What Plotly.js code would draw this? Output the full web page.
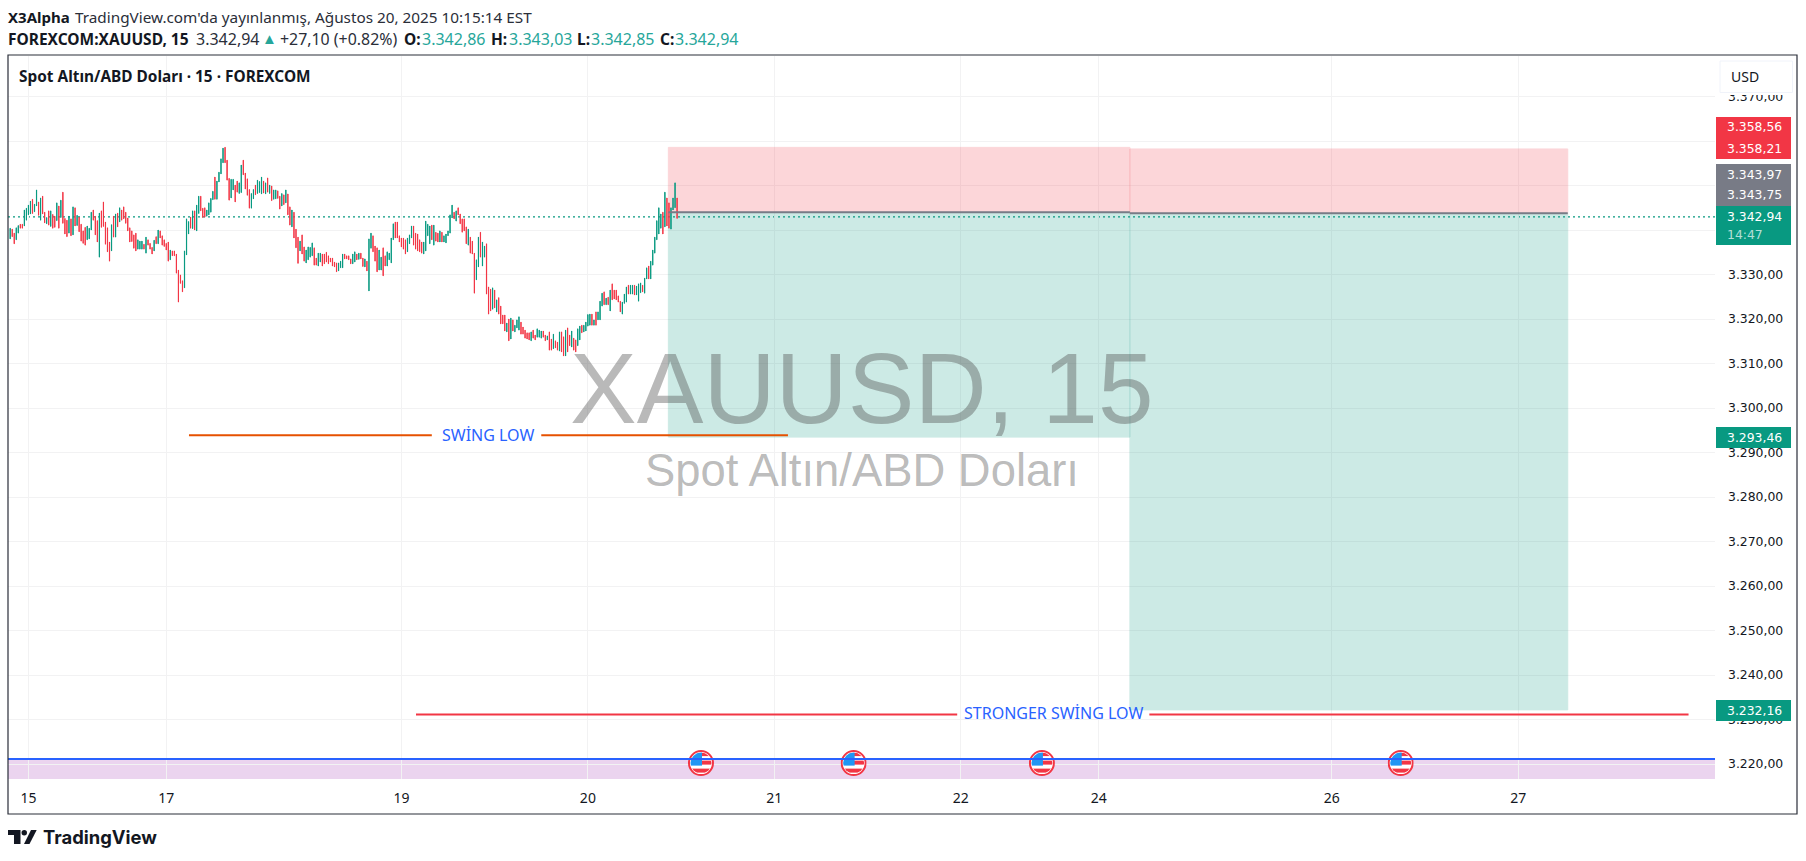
<!DOCTYPE html>
<html><head><meta charset="utf-8">
<script src="https://cdn.plot.ly/plotly-3.0.1.min.js"></script>
<style>html,body{margin:0;padding:0;background:#fff}#c{width:1806px;height:861px}</style>
</head><body><div id="c"></div>
<script>
// 15-minute candles, oldest first
const opens=[3338.0,3340.2,3339.3,3337.8,3339.3,3341.3,3341.3,3340.9,3342.2,3343.4,3343.6,3346.9,3344.1,3345.4,3346.3,3342.2,3347.6,3344.0,3341.4,3344.3,3340.8,3343.5,3343.1,3342.1,3345.4,3342.8,3348.5,3342.6,3342.2,3339.3,3342.5,3338.9,3345.0,3341.0,3342.9,3341.3,3339.8,3340.6,3337.8,3338.0,3340.0,3344.5,3343.1,3342.1,3333.9,3344.3,3346.3,3341.8,3340.5,3337.3,3335.3,3343.1,3338.4,3343.8,3341.8,3344.5,3345.2,3344.0,3342.7,3340.5,3339.8,3338.9,3339.3,3335.7,3335.7,3335.7,3336.8,3334.8,3337.8,3337.0,3336.1,3335.3,3338.5,3336.9,3339.8,3338.7,3337.8,3337.0,3337.3,3333.3,3335.3,3335.3,3334.6,3331.0,3329.9,3328.6,3327.0,3334.4,3339.1,3342.9,3340.3,3344.3,3339.8,3343.7,3347.6,3344.9,3345.0,3343.1,3343.4,3344.0,3346.8,3351.9,3346.9,3350.8,3352.6,3355.1,3358.6,3355.7,3351.6,3347.2,3349.0,3350.1,3351.0,3348.2,3348.4,3355.7,3352.8,3351.5,3349.1,3344.9,3347.0,3350.1,3348.2,3348.4,3348.1,3351.0,3348.1,3351.7,3348.2,3349.9,3346.9,3347.0,3348.8,3347.6,3345.4,3347.9,3346.1,3348.1,3345.2,3340.7,3344.0,3340.2,3338.4,3335.3,3338.9,3336.2,3332.6,3333.3,3333.9,3334.2,3336.0,3333.7,3331.9,3332.8,3334.6,3334.6,3335.0,3334.2,3333.7,3333.7,3332.8,3332.6,3330.8,3331.5,3331.5,
3334.6,3334.2,3334.2,3333.5,3332.4,3332.8,3334.6,3333.4,3334.8,3333.7,3331.7,3333.0,3326.3,3335.9,3338.7,
3336.4,3336.0,3331.0,3331.0,3336.0,3334.2,3331.9,3333.3,3332.6,3337.8,3341.8,3341.8,3338.7,3338.2,3338.2,3337.8,3335.1,3336.9,3338.2,3340.9,3339.3,3339.1,3337.8,3337.3,3334.6,3335.3,3338.7,3336.9,3341.1,3336.6,3339.5,3339.3,3337.3,3339.5,3337.3,3337.1,3338.7,3339.3,3342.7,3344.0,3342.0,3345.0,3343.6,3342.5,3342.5,3340.7,3336.6,3338.4,3337.5,3334.8,3328.8,3331.7,3339.5,3331.9,3333.9,3336.9,3327.2,3326.7,3322.2,3326.5,3321.6,3324.8,3322.9,3320.9,3320.9,3317.1,3320.0,3315.5,3319.8,3317.1,3318.0,3317.5,3319.3,3318.2,3317.5,3316.9,3316.9,3315.1,3317.5,3316.4,3315.9,3315.9,3315.7,3317.3,3316.4,3315.3,3317.1,3315.5,3313.3,3315.1,3314.8,3312.8,3317.1,3316.0,3311.7,3318.0,3316.4,3313.7,3315.7,3315.3,3314.0,3315.3,3318.6,3317.1,3317.3,3318.4,3318.6,3321.1,3318.6,3321.6,3319.8,3319.8,3322.9,3326.1,3323.2,3324.9,3321.8,3327.9,3326.5,3326.5,3325.2,3324.0,3321.1,3323.5,3323.8,3327.6,3325.6,3325.6,3327.6,3325.4,3324.0,3325.9,3327.6,3325.8,3329.0,3331.9,3329.0,3332.1,3334.8,3337.8,3339.1,3340.4,3344.0,3340.7,3347.2,3346.1,3340.2,3344.5,3345.0,3347.2];
const closes=[3340.4,3338.5,3336.9,3340.5,3341.0,3340.4,3340.4,3344.5,3344.9,3345.6,3346.5,3343.7,3345.8,3349.0,3343.3,3347.2,3343.6,3341.6,3342.8,3341.1,3344.3,3340.4,3340.6,3346.1,3340.4,3346.7,3341.5,3339.1,3338.5,3343.1,3338.7,3345.2,3340.9,3343.3,3339.6,3337.5,3337.0,3336.6,3340.9,3340.4,3344.0,3342.2,3338.9,3337.3,3343.8,3340.6,3340.8,3336.8,3335.1,3333.0,3341.2,3338.4,3343.6,3340.7,3345.0,3342.2,3342.5,3341.5,3339.8,3337.3,3337.4,3335.9,3335.3,3337.8,3337.5,3337.5,3335.7,3338.4,3336.6,3335.7,3334.6,3337.7,3336.9,3340.0,3338.2,3336.6,3336.3,3335.5,3333.0,3335.5,3334.2,3334.2,3330.3,3323.8,3328.0,3326.1,3335.3,3342.5,3341.9,3340.4,3344.3,3340.0,3345.6,3347.6,3344.3,3342.8,3342.9,3344.5,3346.1,3347.1,3348.7,3346.9,3351.0,3353.0,3356.0,3358.4,3355.1,3351.2,3346.7,3351.4,3351.4,3346.3,3348.5,3350.6,3354.6,3352.4,3349.2,3347.8,3344.9,3348.2,3349.1,3347.9,3351.2,3350.9,3351.9,3348.3,3350.6,3348.5,3350.1,3346.6,3349.0,3349.0,3347.1,3344.7,3348.2,3345.7,3349.0,3343.4,3341.1,3344.5,3338.2,3336.0,3332.5,3337.5,3334.6,3333.0,3335.5,3336.2,3336.1,3337.1,3332.1,3332.1,3334.8,3334.8,3331.9,3332.4,3332.8,3332.4,3332.8,3331.9,3331.7,3330.6,3332.6,3333.0,3334.6,
3333.5,3333.5,3333.3,3332.4,3334.6,3335.1,3333.3,3334.8,3333.5,3331.8,3333.5,3330.8,3338.0,3339.3,3335.1,
3333.0,3330.6,3335.5,3333.9,3329.7,3331.9,3335.1,3334.8,3338.2,3341.4,3338.2,3338.2,3337.3,3336.2,3335.7,3334.6,3338.2,3338.9,3340.9,3336.6,3335.7,3335.3,3335.1,3334.8,3337.3,3342.0,3341.3,3340.9,3337.8,3341.1,3337.5,3337.3,3339.8,3337.3,3338.7,3339.1,3339.8,3343.4,3345.6,3342.5,3344.3,3343.4,3341.4,3339.5,3339.8,3336.9,3340.2,3334.8,3334.6,3325.8,3333.3,3338.4,3333.9,3337.3,3336.4,3325.6,3321.1,3321.8,3327.0,3322.5,3324.3,3321.1,3318.9,3318.9,3317.3,3319.1,3315.1,3320.2,3317.3,3318.6,3319.8,3320.5,3316.6,3316.6,3315.7,3315.5,3315.3,3317.1,3315.7,3315.3,3317.8,3317.5,3317.3,3315.9,3315.1,3316.2,3313.0,3313.0,3316.6,3313.5,3313.0,3317.1,3312.6,3311.7,3317.5,3312.6,3314.0,3317.3,3313.0,3312.6,3317.8,3318.4,3316.9,3318.6,3319.3,3321.0,3321.1,3318.6,3319.8,3318.6,3321.6,3324.0,3325.8,3323.2,3324.7,3323.2,3326.5,3324.3,3324.5,3324.3,3323.8,3321.6,3323.8,3325.6,3327.2,3325.6,3327.6,3327.6,3325.4,3327.4,3327.9,3328.1,3326.1,3329.2,3331.5,3329.0,3333.0,3335.5,3338.4,3342.1,3345.0,3343.6,3339.1,3348.5,3340.9,3340.4,3345.0,3347.2,3350.6,3342.6];
const priceTicks=[3220,3230,3240,3250,3260,3270,3280,3290,3300,3310,3320,3330,3340,3350,3360,3370];
const priceTickLabels=['3.220,00','3.230,00','3.240,00','3.250,00','3.260,00','3.270,00','3.280,00','3.290,00','3.300,00','3.310,00','3.320,00','3.330,00','3.340,00','3.350,00','3.360,00','3.370,00'];
const dayBars=[9,77,193,285,377,469,537,652,744];
const dayLabels=['15','17','19','20','21','22','24','26','27'];
const lastPrice=3342.94;
const stopA=3358.56, entryA=3343.97, targetA=3293.46;
const stopB=3358.21, entryB=3343.75, targetB=3232.16;
const toolBars=[324.7,552.4,768.4];
const swingLow=3293.9, strongLow=3231.1, bandTop=3221.1;
const eventBars=[340.8,416.1,509,686];

const W=1806,H=861,L=8,R=1715,T=56,B=779;
const px=x=>(x-L)/(R-L), py=y=>1-(y-T)/(B-T);
const GREEN='#089981',RED='#f23645',GREY='#787b86',BLUE='#2962ff';
const UI='"Noto Sans",sans-serif', NUM='"DejaVu Sans",sans-serif';
const idx=opens.map((_,i)=>i);
const trace={type:'candlestick',x:idx,open:opens,close:closes,
  high:opens.map((o,i)=>Math.max(o,closes[i])),low:opens.map((o,i)=>Math.min(o,closes[i])),
  increasing:{line:{color:GREEN,width:1},fillcolor:GREEN},decreasing:{line:{color:RED,width:1},fillcolor:RED},
  whiskerwidth:0,hoverinfo:'skip',showlegend:false};

const shapes=[], ann=[];
const box=(x0,y0,x1,y1,fill)=>shapes.push({type:'rect',xref:'paper',yref:'paper',x0:px(x0),x1:px(x1),y0:py(y0),y1:py(y1),fillcolor:fill,line:{width:0},layer:'above'});
const zone=(a,b,p,q,c)=>shapes.push({type:'rect',xref:'x',yref:'y',x0:a,x1:b,y0:p,y1:q,fillcolor:c,opacity:0.2,line:{color:c,width:1},layer:'between'});
const seg=(a,b,y,c,w)=>shapes.push({type:'line',xref:'x',yref:'y',x0:a,x1:b,y0:y,y1:y,line:{color:c,width:w},layer:'above'});
const label=(x,y,text,size,color,font,anchor)=>ann.push({xref:'paper',yref:'paper',x:px(x),y:py(y),text,showarrow:false,xanchor:anchor||'left',yanchor:'middle',font:{size,color,family:font||UI},borderpad:0,borderwidth:0});

// position tools
zone(toolBars[0],toolBars[1],entryA,stopA,RED);
zone(toolBars[1],toolBars[2],entryB,stopB,RED);
zone(toolBars[0],toolBars[1],targetA,entryA,GREEN);
zone(toolBars[1],toolBars[2],targetB,entryB,GREEN);
seg(toolBars[0],toolBars[1],entryA,GREY,2);
seg(toolBars[1],toolBars[2],entryB,GREY,2);
// band + blue line
shapes.push({type:'rect',xref:'paper',yref:'y',x0:0,x1:1,y0:3216.63,y1:bandTop,fillcolor:'rgba(156,39,176,0.2)',line:{width:0},layer:'between'});
seg(-1.08,841.05,bandTop,BLUE,2);
// price line
shapes.push({type:'line',xref:'paper',yref:'y',x0:0,x1:1,y0:lastPrice,y1:lastPrice,line:{color:GREEN,width:1.2,dash:'2px 3px'},layer:'between'});
// swing lines
seg(88.2,208.0,swingLow,'#e65100',2);seg(262.0,383.7,swingLow,'#e65100',2);
seg(200.2,467.2,strongLow,RED,2);seg(562.0,828,strongLow,RED,2);
label(488,435,'SWİNG LOW',16,BLUE,UI,'center');
label(1053,713,'STRONGER SWİNG LOW',16,BLUE,UI,'center');
// watermark
label(861.5,388,'XAUUSD, 15',100,'rgba(80,80,80,0.4)','"Liberation Sans",sans-serif','center');
label(861.5,470,'Spot Altın/ABD Doları',45.4,'rgba(80,80,80,0.4)','"Liberation Sans",sans-serif','center');
// price scale boxes
box(1716,117,1791,159,RED);box(1716,164,1791,206,GREY);box(1716,206,1791,245,GREEN);
box(1716,427,1791,448,GREEN);box(1716,700,1791,721,GREEN);
[[127,'3.358,56','#fff'],[148,'3.358,21','#fff'],[174,'3.343,97','#fff'],[194,'3.343,75','#fff'],[216,'3.342,94','#fff'],[234,'14:47','rgba(255,255,255,0.7)'],[437,'3.293,46','#fff'],[710,'3.232,16','#fff']].forEach(d=>label(1727,d[0],d[1],12.4,d[2],NUM));
box(1716,88,1795,95,'#fff');
shapes.push({type:'rect',xref:'paper',yref:'paper',x0:px(1720),x1:px(1792.5),y0:py(61),y1:py(92.5),fillcolor:'#fff',line:{color:'#f0f3fa',width:1},layer:'above'});
label(1731,76,'USD',14,'#131722',UI);
// frame
shapes.push({type:'rect',xref:'paper',yref:'paper',x0:px(8),x1:px(1797),y0:py(55),y1:py(814),line:{color:'#2a2e39',width:1.2},fillcolor:'rgba(0,0,0,0)',layer:'above'});
// header
const DARK='#131722',TEXT='#2a2e39',TEAL='#26a69a';
label(8,17,'<b>X3Alpha</b>',15,DARK);
label(75,17,"TradingView.com'da yayınlanmış, Ağustos 20, 2025 10:15:14 EST",15.3,TEXT);
label(8,39,'<b>FOREXCOM:XAUUSD, 15</b>',15.5,DARK);
label(196,39,'3.342,94',16,TEXT);
label(262,38,'▲',15,TEAL);
label(280,39,'+27,10 (+0.82%)',15.9,TEXT);
[[404,'O:',422,'3.342,86'],[491,'H:',509,'3.343,03'],[577,'L:',591,'3.342,85'],[660,'C:',675,'3.342,94']].forEach(d=>{label(d[0],39,'<b>'+d[1]+'</b>',15.5,DARK);label(d[2],39,d[3],16,TEAL);});
label(19,76,'<b>Spot Altın/ABD Doları · 15 · FOREXCOM</b>',15.4,DARK);
// logo
const P=(x,y)=>px(x).toFixed(5)+','+py(y).toFixed(5);
shapes.push({type:'path',xref:'paper',yref:'paper',path:'M'+P(8,830)+'L'+P(20.5,830)+'L'+P(20.5,844)+'L'+P(14,844)+'L'+P(14,835)+'L'+P(8,835)+'Z',fillcolor:DARK,line:{width:0},layer:'above'});
shapes.push({type:'circle',xref:'paper',yref:'paper',x0:px(21.5),x1:px(27),y0:py(830),y1:py(835.5),fillcolor:DARK,line:{width:0},layer:'above'});
shapes.push({type:'path',xref:'paper',yref:'paper',path:'M'+P(31,830)+'L'+P(36.7,830)+'L'+P(29.5,844)+'L'+P(24,844)+'Z',fillcolor:DARK,line:{width:0},layer:'above'});
label(43,837,'<b>TradingView</b>',18.4,DARK,'Inter,sans-serif');

const flag='<svg xmlns="http://www.w3.org/2000/svg" width="52" height="54" viewBox="0 0 52 54"><defs><clipPath id="k"><circle cx="26" cy="27" r="21"/></clipPath></defs><circle cx="26" cy="27" r="24" fill="#fff" stroke="#f23645" stroke-width="4"/><g clip-path="url(#k)"><rect x="0" y="0" width="52" height="54" fill="#fff"/><rect x="26" y="6" width="26" height="7" fill="#f23645"/><rect x="26" y="22" width="26" height="8" fill="#f23645"/><rect x="0" y="38" width="52" height="8" fill="#f23645"/><rect x="0" y="3" width="28" height="29" fill="#2196f3"/></g></svg>';
const images=eventBars.map(b=>({source:'data:image/svg+xml;charset=utf-8,'+encodeURIComponent(flag),xref:'x',yref:'y',x:b,y:3220.2,sizex:12.83,sizey:6.07,xanchor:'center',yanchor:'middle',sizing:'stretch',layer:'above'}));

Plotly.newPlot('c',[trace],{
  width:W,height:H,margin:{l:L,r:W-R,t:T,b:H-B,pad:0},paper_bgcolor:'#fff',plot_bgcolor:'#fff',showlegend:false,dragmode:false,boxgap:0.9,boxgroupgap:0,
  xaxis:{type:'linear',range:[-1.08,841.05],tickmode:'array',tickvals:dayBars,ticktext:dayLabels,showgrid:true,gridcolor:'#f2f2f3',gridwidth:1,zeroline:false,showline:false,ticks:'',ticklabelstandoff:9,tickfont:{size:14,color:DARK,family:UI},rangeslider:{visible:false},fixedrange:true},
  yaxis:{side:'right',range:[3216.63,3379.1],tickmode:'array',tickvals:priceTicks,ticktext:priceTickLabels,showgrid:true,gridcolor:'#f2f2f3',gridwidth:1,zeroline:false,showline:false,ticks:'',ticklabelstandoff:12,ticklabelshift:-2.5,tickfont:{size:12.4,color:DARK,family:NUM},fixedrange:true},
  shapes,annotations:ann,images
},{displayModeBar:false,staticPlot:true});
</script></body></html>
